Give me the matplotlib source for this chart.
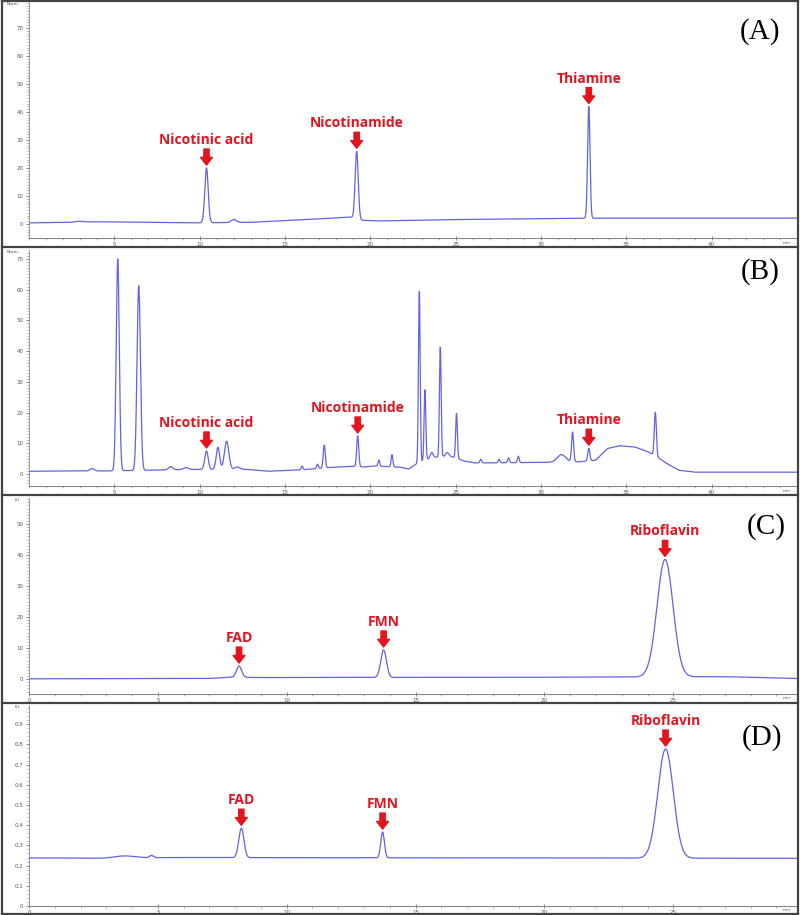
import numpy as np
import matplotlib
matplotlib.use('Agg')
import matplotlib.pyplot as plt
from matplotlib.lines import Line2D
from matplotlib.ticker import MultipleLocator
from matplotlib.transforms import offset_copy

# (A) standard mix, 260 nm
a_peak_t = [2.9, 10.4, 12.0, 19.2, 32.8]
a_peak_h = [1.0, 20.0, 1.6, 26.0, 42.0]
a_peak_w = [0.2, 0.1, 0.15, 0.09, 0.07]
a_base_t = [0, 2.5, 3.5, 6, 9.5, 13, 16, 18.8, 19.6, 20.5, 24, 28, 32, 33.5, 45]
a_base_v = [0.4, 0.6, 0.8, 0.7, 0.4, 0.6, 1.5, 2.5, 1.3, 1.1, 1.5, 1.8, 2.0, 2.1, 2.1]
a_labels = ['Nicotinic acid', 'Nicotinamide', 'Thiamine']
a_label_t = [10.4, 19.2, 32.8]

# (B) sample, 260 nm
b_peak_t = [3.7, 5.2, 6.43, 8.3, 9.2, 10.4, 11.07, 11.58, 12.2, 16.0, 16.9, 17.3, 19.26,
            20.5, 21.27, 22.87, 23.2, 23.6, 24.1, 24.5, 25.05, 26.47, 27.54, 28.1, 28.67,
            31.2, 31.85, 32.8, 36.7]
b_peak_h = [1.8, 70.0, 61.3, 2.4, 2.1, 7.5, 8.7, 10.7, 2.3, 2.6, 3.2, 9.4, 12.4,
            4.5, 6.3, 59.4, 27.4, 7.0, 41.3, 7.0, 19.8, 4.8, 4.8, 5.3, 5.8,
            6.3, 13.6, 8.4, 20.1]
b_peak_w = [0.12, 0.09, 0.1, 0.12, 0.15, 0.1, 0.1, 0.13, 0.15, 0.05, 0.05, 0.06, 0.06,
            0.05, 0.05, 0.05, 0.05, 0.08, 0.05, 0.08, 0.05, 0.05, 0.05, 0.05, 0.05,
            0.25, 0.06, 0.06, 0.06]
b_base_t = [0, 3, 4.5, 7.5, 10, 12.8, 14, 15.8, 17.8, 19, 19.6, 20.3, 21.8, 22.25, 22.6,
            23.5, 24.6, 25.5, 26.1, 30.5, 32.3, 33.2, 33.9, 34.6, 35.5, 36.3, 36.95,
            37.5, 38.1, 39, 45]
b_base_v = [0.9, 1.0, 1.0, 1.3, 1.5, 1.5, 0.9, 1.3, 2.2, 2.5, 2.3, 2.6, 2.2, 1.6, 3.0,
            5.2, 6.0, 4.2, 3.6, 3.8, 4.0, 4.5, 8.3, 9.2, 8.8, 7.2, 5.0,
            3.0, 1.2, 0.6, 0.6]
b_labels = ['Nicotinic acid', 'Nicotinamide', 'Thiamine']
b_label_t = [10.4, 19.26, 32.8]

# (C) standard mix, fluorescence
c_peak_t = [8.15, 13.76, 24.68]
c_peak_h = [4.2, 9.4, 38.6]
c_peak_w = [0.1, 0.11, 0.31]
c_base_t = [0, 7.0, 7.8, 9, 20, 23.5, 27, 29.8]
c_base_v = [0.1, 0.2, 0.6, 0.5, 0.6, 0.7, 0.8, 0.2]
c_labels = ['FAD', 'FMN', 'Riboflavin']
c_label_t = [8.15, 13.76, 24.68]

# (D) sample, fluorescence
d_peak_t = [3.7, 4.75, 8.24, 13.72, 24.7]
d_peak_h = [0.248, 0.25, 0.385, 0.366, 0.777]
d_peak_w = [0.4, 0.08, 0.1, 0.07, 0.3]
d_base_t = [0, 3, 5.5, 29.8]
d_base_v = [0.238, 0.236, 0.24, 0.236]
d_labels = ['FAD', 'FMN', 'Riboflavin']
d_label_t = [8.24, 13.72, 24.7]

RED = '#e3141e'
BLUE = '#6262e6'


def trace(t, peak_t, peak_h, peak_w, base_t, base_v):
    y = np.interp(t, base_t, base_v)
    for pt, ph, pw in zip(peak_t, peak_h, peak_w):
        amp = ph - np.interp(pt, base_t, base_v)
        y = y + amp * np.exp(-(t - pt) ** 2 / (2 * pw ** 2))
    return y


def draw_panel(ax, xmax, ylim, yticks, ymin, xticks, unit, data, labels, label_t):
    t = np.linspace(0, xmax, 6000)
    y = trace(t, *data)
    ax.plot(t, y, color=BLUE, lw=0.9)
    ax.set_xlim(0, xmax)
    ax.set_ylim(*ylim)
    ax.set_yticks(yticks)
    ax.yaxis.set_minor_locator(MultipleLocator(ymin))
    ax.set_xticks(xticks)
    ax.xaxis.set_minor_locator(MultipleLocator(1))
    ax.tick_params(labelsize=4, colors='#555555', length=2.5, width=0.5, pad=1.5)
    ax.tick_params(which='minor', length=1.3, width=0.4, colors='#777777')
    ax.tick_params(axis='x', direction='inout')
    for s in ['top', 'right']:
        ax.spines[s].set_visible(False)
    ax.spines['left'].set_color('#888888')
    ax.spines['left'].set_linestyle((0, (1, 1)))
    ax.spines['left'].set_linewidth(0.6)
    ax.spines['bottom'].set_color('#888888')
    ax.spines['bottom'].set_linewidth(0.8)
    ax.patch.set_alpha(0)
    ax.text(-0.012, 1.0, unit, transform=ax.transAxes, ha='right', va='top',
            fontsize=3.2, color='#555555')
    ax.text(0.992, -0.012, 'min', transform=ax.transAxes, ha='right', va='top',
            fontsize=3.2, color='#555555')
    tip_tr = offset_copy(ax.transData, fig=ax.figure, y=3, units='dots')
    for lab, lt in zip(labels, label_t):
        apex = np.interp(lt, t, y)
        ax.annotate('', xy=(lt, apex), xycoords=tip_tr, xytext=(0, 16),
                    textcoords='offset pixels',
                    arrowprops=dict(arrowstyle='simple,head_length=0.55,head_width=0.85,tail_width=0.38',
                                    color=RED, shrinkA=0, shrinkB=0, mutation_scale=10))
        ax.annotate(lab, xy=(lt, apex), xytext=(0, 21), textcoords='offset pixels',
                    ha='center', va='bottom', color=RED, fontsize=10,
                    fontweight='bold', family='Open Sans')


fig = plt.figure(figsize=(8, 9.15), dpi=100)
W, H = 800.0, 915.0


def px_axes(top, bottom):
    return fig.add_axes([29 / W, 1 - bottom / H, 768 / W, (bottom - top) / H])


axA = px_axes(2, 238)
draw_panel(axA, 45, (-5, 79.3), range(0, 80, 10), 1, range(5, 45, 5), 'Norm.',
           (a_peak_t, a_peak_h, a_peak_w, a_base_t, a_base_v), a_labels, a_label_t)
axB = px_axes(250, 486)
draw_panel(axB, 45, (-3.9, 72.9), range(0, 80, 10), 1, range(5, 45, 5), 'Norm.',
           (b_peak_t, b_peak_h, b_peak_w, b_base_t, b_base_v), b_labels, b_label_t)
axC = px_axes(498, 694)
draw_panel(axC, 29.8, (-4.8, 58.4), range(0, 60, 10), 1, range(0, 30, 5), 'LU',
           (c_peak_t, c_peak_h, c_peak_w, c_base_t, c_base_v), c_labels, c_label_t)
axD = px_axes(705, 906)
draw_panel(axD, 29.8, (0, 0.995), np.arange(0, 1.0, 0.1), 0.02, range(0, 30, 5), 'LU',
           (d_peak_t, d_peak_h, d_peak_w, d_base_t, d_base_v), d_labels, d_label_t)
axD.set_yticklabels(['0'] + ['%.1f' % v for v in np.arange(0.1, 1.0, 0.1)])

# panel letters
for letter, (x, y) in zip(['(A)', '(B)', '(C)', '(D)'],
                          [(760, 32), (760, 272), (766, 527), (762, 738)]):
    fig.text(x / W, 1 - y / H, letter, ha='center', va='center', fontsize=21,
             family='Liberation Serif', color='black')

# frame around the four panels
frame = dict(transform=fig.transFigure, color='#444444', lw=1.6)
for yy in [1, 247, 495, 703, 914]:
    fig.add_artist(Line2D([2 / W, 798 / W], [1 - yy / H, 1 - yy / H], **frame))
for xx in [2, 798]:
    fig.add_artist(Line2D([xx / W, xx / W], [1 / H, 1 - 1 / H], **frame))

fig.savefig('out.png', dpi=100, facecolor='white')
